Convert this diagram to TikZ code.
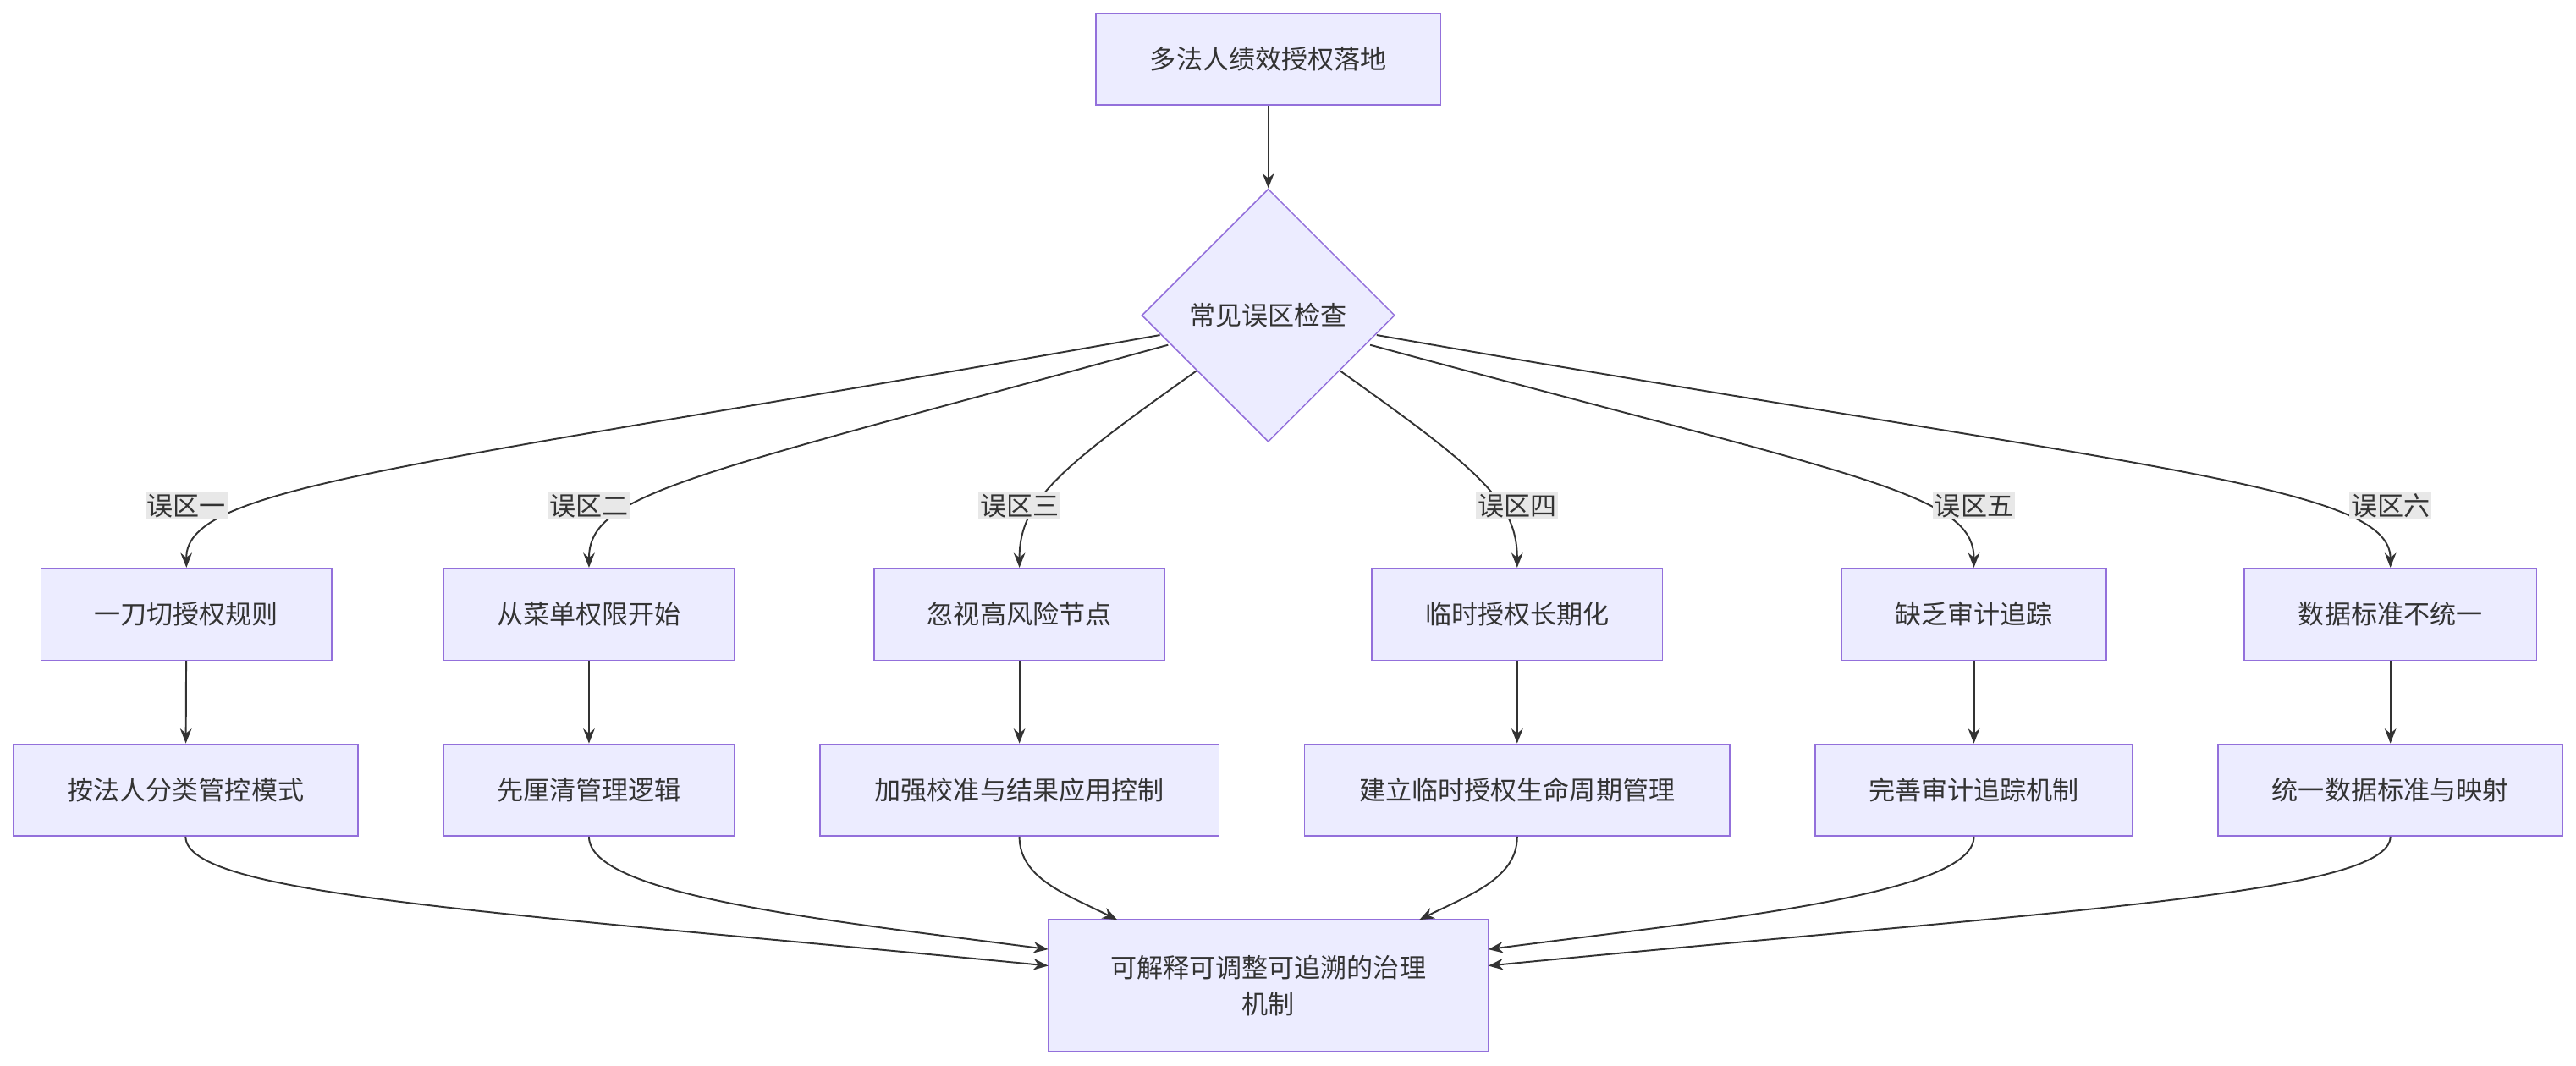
\documentclass[tikz,border=0pt]{standalone}
\usepackage{fontspec}
\setmainfont{Noto Sans CJK SC}
\usetikzlibrary{arrows.meta,shapes.geometric}
\definecolor{bfill}{HTML}{ECECFF}
\definecolor{bline}{HTML}{9370DB}
\definecolor{eline}{HTML}{333333}
\definecolor{lbg}{HTML}{E8E8E8}
\begin{document}
\begin{tikzpicture}[x=1pt,y=-1pt,
  box/.style={draw=bline,fill=bfill,line width=0.8pt,minimum height=56pt,inner sep=0pt,font=\fontsize{16}{22}\selectfont,text=eline,align=center},
  lab/.style={fill=lbg,inner sep=1pt,font=\fontsize{16}{20}\selectfont,text=eline},
  edge/.style={draw=eline,line width=1pt,-{Stealth[length=9pt,width=7pt]}}]
\useasboundingbox (0,0) rectangle (1568,649);
\node[box,minimum width=210pt] (top) at (772,36) {多法人绩效授权落地};
\node[diamond,draw=bline,fill=bfill,line width=0.8pt,minimum width=154pt,minimum height=154pt,inner sep=0pt,aspect=1,font=\fontsize{16}{20}\selectfont,text=eline] (dia) at (772,192) {常见误区检查};
\draw[edge] (top) -- (dia);
\foreach \n/\x/\w/\t in {a/113.5/177/一刀切授权规则,b/358.5/177/从菜单权限开始,c/620.5/177/忽视高风险节点,d/923.5/177/临时授权长期化,e/1201.5/161/缺乏审计追踪,f/1455/178/数据标准不统一}
  \node[box,minimum width=\w pt] (r\n) at (\x,374) {\t};
\foreach \n/\x/\w/\t in {a/113/210/按法人分类管控模式,b/358.5/177/先厘清管理逻辑,c/620.5/243/加强校准与结果应用控制,d/923.5/259/建立临时授权生命周期管理,e/1201.5/193/完善审计追踪机制,f/1455/210/统一数据标准与映射}
  \node[box,minimum width=\w pt] (s\n) at (\x,481) {\t};
\node[box,minimum width=268pt,minimum height=80pt] (bot) at (772,600) {可解释可调整可追溯的治理\\机制};
\coordinate (p1) at (706,204); \coordinate (p2) at (711,210); \coordinate (p3) at (728,226);
\coordinate (p4) at (816,226); \coordinate (p5) at (834,210); \coordinate (p6) at (838,204);
\draw[edge] (p1) .. controls (250,285) and (113,295) .. (ra.north);
\draw[edge] (p2) .. controls (420,290) and (358.5,300) .. (rb.north);
\draw[edge] (p3) .. controls (645,285) and (620.5,305) .. (rc.north);
\draw[edge] (p4) .. controls (899,285) and (923.5,305) .. (rd.north);
\draw[edge] (p5) .. controls (1130,290) and (1201.5,300) .. (re.north);
\draw[edge] (p6) .. controls (1300,285) and (1455,295) .. (rf.north);
\foreach \n/\x/\t in {a/113.5/误区一,b/358.5/误区二,c/620.5/误区三,d/923.5/误区四,e/1201.5/误区五,f/1455/误区六}
  \node[lab] (l\n) at (\x,308) {\t};
\foreach \n in {a,b,c,d,e,f} \draw[edge] (r\n) -- (s\n);
\coordinate (q1) at (638,588); \coordinate (q2) at (638,578); \coordinate (q3) at (680,560);
\coordinate (q4) at (864,560); \coordinate (q5) at (906,578); \coordinate (q6) at (906,588);
\draw[edge] (sa.south) .. controls (113,545) and (300,555) .. (q1);
\draw[edge] (sb.south) .. controls (358.5,545) and (500,560) .. (q2);
\draw[edge] (sc.south) .. controls (620.5,535) and (650,545) .. (q3);
\draw[edge] (sd.south) .. controls (923.5,535) and (894,545) .. (q4);
\draw[edge] (se.south) .. controls (1201.5,545) and (1044,560) .. (q5);
\draw[edge] (sf.south) .. controls (1455,545) and (1244,555) .. (q6);
\end{tikzpicture}
\end{document}
